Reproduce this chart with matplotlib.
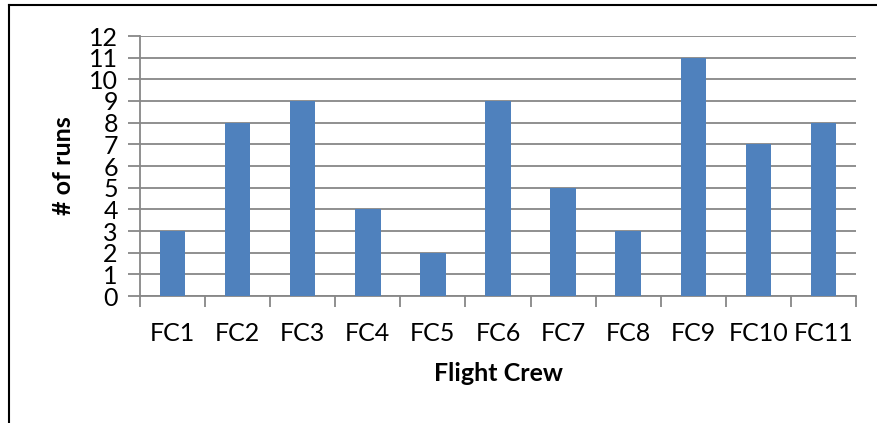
import matplotlib
matplotlib.use("Agg")
import matplotlib.pyplot as plt
from matplotlib.lines import Line2D
import numpy as np

plt.rcParams['font.family'] = ['Lato', 'DejaVu Sans']

crews = ["FC1", "FC2", "FC3", "FC4", "FC5", "FC6", "FC7", "FC8", "FC9", "FC10", "FC11"]
runs = [3, 8, 9, 4, 2, 9, 5, 3, 11, 7, 8]
yticks = list(range(0, 13))

W, H = 877, 423
fig = plt.figure(figsize=(W / 100, H / 100), dpi=100)
ax = fig.add_axes([140 / W, 1 - 296 / H, (856 - 140) / W, (296 - 36) / H])

x = np.arange(len(crews))
ax.bar(x, runs, width=0.39, color="#4F81BD", zorder=3)

grid_c = "#878787"
ax.set_xlim(-0.5, len(crews) - 0.5)
ax.set_ylim(0, 12)
ax.set_yticks(yticks)
ax.yaxis.grid(True, color=grid_c, linewidth=1.3, zorder=0)
ax.set_xticks(x)
ax.set_xticklabels(crews)
ax.set_xticks(np.arange(-0.5, len(crews)), minor=True)

ax.tick_params(axis="y", length=9, width=1.3, color=grid_c, labelsize=18, pad=7)
ax.tick_params(axis="x", which="major", length=0, labelsize=18, pad=19)
ax.tick_params(axis="x", which="minor", length=8, width=1.3, color=grid_c)

for s in ["top", "right"]:
    ax.spines[s].set_visible(False)
for s in ["left", "bottom"]:
    ax.spines[s].set_color(grid_c)
    ax.spines[s].set_linewidth(1.3)

ax.set_ylabel("# of runs", fontsize=18, fontweight="bold", labelpad=10)
ax.set_xlabel("Flight Crew", fontsize=18, fontweight="bold", labelpad=12)

# chart border, only top and left visible in the crop
fig.add_artist(Line2D([8.5 / W, 8.5 / W], [0, 1 - 5 / H], color="black", linewidth=1.5))
fig.add_artist(Line2D([8.5 / W, 1], [1 - 5 / H, 1 - 5 / H], color="black", linewidth=1.5))

fig.savefig("out.png", dpi=100)
